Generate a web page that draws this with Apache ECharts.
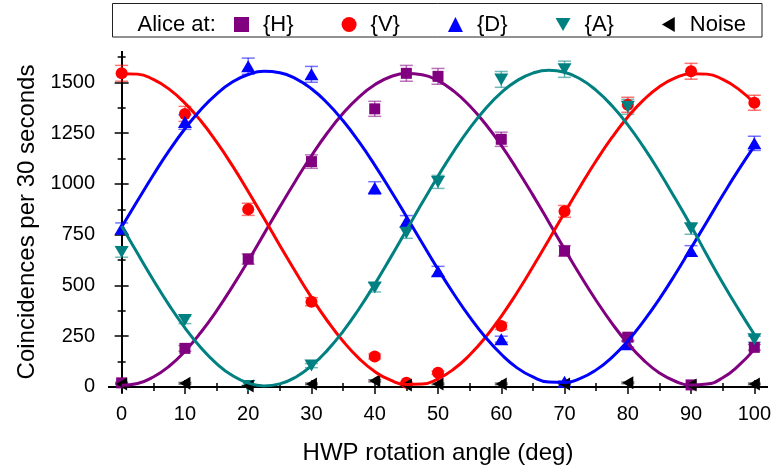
<!DOCTYPE html>
<html>
<head>
<meta charset="utf-8">
<script src="https://cdn.jsdelivr.net/npm/echarts@6/dist/echarts.min.js"></script>
<style>
  html, body { margin: 0; padding: 0; background: #fff; }
  #chart { width: 772px; height: 472px; }
</style>
</head>
<body>
<div id="chart"></div>
<script>
// ---- data ----
const angles = [0, 10, 20, 30, 40, 45, 50, 60, 70, 80, 90, 100];
const countsH = [20, 190, 630, 1110, 1370, 1545, 1530, 1220, 670, 245, 10, 195];
const countsV = [1545, 1345, 875, 420, 150, 20, 70, 300, 865, 1390, 1555, 1400];
const countsD = [780, 1305, 1580, 1540, 980, 815, 570, 235, 25, 210, 670, 1200];
const countsA = [665, 330, 5, 105, 490, 760, 1010, 1515, 1565, 1380, 780, 235];
const countsNoise = [15, 18, 5, 15, 30, 10, 15, 15, 15, 20, 10, 15];

const errH = [4, 14, 25, 33, 37, 39, 39, 35, 26, 16, 3, 14];
const errV = [39, 37, 30, 20, 12, 4, 8, 17, 29, 37, 39, 37];
const errD = [28, 36, 40, 39, 31, 29, 24, 15, 5, 14, 26, 35];
const errA = [26, 18, 2, 10, 22, 28, 32, 39, 40, 37, 28, 15];
const errNoise = [4, 4, 2, 4, 5, 3, 4, 4, 4, 4, 3, 4];

// fitted curves, read every 2.5 degrees
const fitAngles = [0, 2.5, 5, 7.5, 10, 12.5, 15, 17.5, 20, 22.5, 25, 27.5, 30, 32.5, 35, 37.5, 40, 42.5, 45, 47.5,
  50, 52.5, 55, 57.5, 60, 62.5, 65, 67.5, 70, 72.5, 75, 77.5, 80, 82.5, 85, 87.5, 90, 92.5, 95, 97.5, 100];
const fitH = [8, 17, 49, 102, 176, 268, 375, 494, 621, 754, 887, 1016, 1139, 1251, 1348, 1428, 1489, 1528, 1544, 1538,
  1509, 1457, 1385, 1295, 1190, 1071, 945, 813, 679, 549, 426, 313, 214, 132, 69, 28, 9, 14, 45, 105, 185];
const fitV = [1543, 1541, 1515, 1467, 1398, 1311, 1207, 1090, 963, 831, 697, 566, 441, 326, 225, 141, 76, 33, 12, 14,
  40, 88, 157, 244, 348, 465, 592, 724, 858, 989, 1114, 1229, 1330, 1414, 1479, 1522, 1543, 1541, 1515, 1467, 1398];
const fitD = [788, 917, 1044, 1164, 1272, 1366, 1443, 1502, 1539, 1555, 1548, 1519, 1469, 1399, 1311, 1208, 1093, 969, 840, 709,
  580, 458, 345, 245, 161, 94, 49, 24, 22, 42, 84, 146, 226, 324, 434, 555, 684, 814, 944, 1069, 1186];
const fitA = [793, 658, 527, 403, 291, 194, 115, 56, 19, 5, 15, 48, 104, 180, 274, 384, 506, 637, 772, 907,
  1038, 1162, 1274, 1371, 1450, 1509, 1546, 1560, 1550, 1517, 1461, 1385, 1291, 1181, 1059, 928, 793, 650, 512, 382, 258];

const legendNames = ['{H}', '{V}', '{D}', '{A}', 'Noise'];
const xMajor = [0, 10, 20, 30, 40, 50, 60, 70, 80, 90, 100];
const xMinor = [5, 15, 25, 35, 45, 55, 65, 75, 85, 95];
const yMajor = [0, 250, 500, 750, 1000, 1250, 1500];
const yMinor = [125, 375, 625, 875, 1125, 1375, 1625];

// ---- styling ----
const FONT = 'Liberation Sans, Arial, Helvetica, sans-serif';
const colors = { H: '#800080', V: '#ff0000', D: '#0000ff', A: '#008080', N: '#000000' };
const errColors = {
  H: 'rgba(128,0,128,0.55)', V: 'rgba(255,0,0,0.55)', D: 'rgba(0,0,255,0.55)',
  A: 'rgba(0,128,128,0.55)', N: 'rgba(0,0,0,0.55)'
};
const ICON_DOWN = 'path://M0,0 L14,0 L7,12 Z';
const ICON_LEFT = 'path://M12,0 L12,14 L0,7 Z';

function zip(xs, ys) { return xs.map((x, i) => [x, ys[i]]); }
function zip3(xs, ys, es) { return xs.map((x, i) => [x, ys[i], es[i]]); }

function errSeries(name, vals, errs, color) {
  return {
    name: name, type: 'custom', xAxisIndex: 0, yAxisIndex: 0,
    data: zip3(angles, vals, errs), encode: { x: 0, y: 1 },
    silent: true,
    renderItem: function (params, api) {
      const x = api.value(0), y = api.value(1), e = api.value(2);
      const t = api.coord([x, y + e]);
      const b = api.coord([x, y - e]);
      const hw = 6.5;
      const st = { stroke: color, lineWidth: 1.5 };
      return {
        type: 'group', children: [
          { type: 'line', shape: { x1: t[0], y1: t[1], x2: b[0], y2: b[1] }, style: st },
          { type: 'line', shape: { x1: t[0] - hw, y1: t[1], x2: t[0] + hw, y2: t[1] }, style: st },
          { type: 'line', shape: { x1: b[0] - hw, y1: b[1], x2: b[0] + hw, y2: b[1] }, style: st }
        ]
      };
    }
  };
}
function fitSeries(name, vals, color) {
  return {
    name: name, type: 'line', xAxisIndex: 0, yAxisIndex: 0,
    data: zip(fitAngles, vals), smooth: true, showSymbol: false, symbol: 'none',
    lineStyle: { color: color, width: 3 }, silent: true
  };
}
function ptSeries(name, vals, color, symbol, size, rot) {
  return {
    name: name, type: 'scatter', xAxisIndex: 0, yAxisIndex: 0,
    data: zip(angles, vals), symbol: symbol, symbolSize: size, symbolRotate: rot || 0,
    itemStyle: { color: color, opacity: 1 }
  };
}

const axisLineStyle = { show: true, lineStyle: { color: '#000', width: 2 } };
function plainNum(v) { return String(v); }
function xAx(pos, ticks, len, labels) {
  return {
    type: 'value', min: -2, max: 102, position: pos, gridIndex: 0,
    axisLine: axisLineStyle,
    axisTick: { show: true, customValues: ticks, length: len, lineStyle: { color: '#000', width: 1.5 } },
    axisLabel: labels ? { show: true, customValues: ticks, formatter: plainNum, fontSize: 20, fontFamily: FONT, color: '#000', margin: 12 } : { show: false },
    splitLine: { show: false }
  };
}
function yAx(pos, ticks, len, labels) {
  return {
    type: 'value', min: -25, max: 1650, position: pos, gridIndex: 0,
    axisLine: axisLineStyle,
    axisTick: { show: true, customValues: ticks, length: len, lineStyle: { color: '#000', width: 1.5 } },
    axisLabel: labels ? { show: true, customValues: ticks, formatter: plainNum, fontSize: 20, fontFamily: FONT, color: '#000', margin: 14 } : { show: false },
    splitLine: { show: false }
  };
}

const xAxes = [xAx('bottom', xMajor, 7, true), xAx('bottom', xMinor, 4, false), xAx('top', xMajor, 7, false), xAx('top', xMinor, 4, false)];
xAxes[0].name = 'HWP rotation angle (deg)';
xAxes[0].nameLocation = 'middle';
xAxes[0].nameGap = 49;
xAxes[0].nameTextStyle = { fontSize: 24, fontFamily: FONT, color: '#000' };

const yAxes = [yAx('left', yMajor, 7, true), yAx('left', yMinor, 4, false), yAx('right', yMajor, 7, false), yAx('right', yMinor, 4, false)];
yAxes[0].name = 'Coincidences per 30 seconds';
yAxes[0].nameLocation = 'middle';
yAxes[0].nameGap = 66;
yAxes[0].nameTextStyle = { fontSize: 24, fontFamily: FONT, color: '#000' };

const option = {
  animation: false,
  backgroundColor: '#fff',
  grid: { left: 109, right: 5, top: 52, bottom: 80, containLabel: false, outerBoundsMode: 'none' },
  legend: {
    data: [
      { name: legendNames[0] },
      { name: legendNames[1] },
      { name: legendNames[2] },
      { name: legendNames[3], icon: ICON_DOWN },
      { name: legendNames[4], icon: ICON_LEFT }
    ],
    left: 234, top: 13.5, padding: 0,
    itemWidth: 15, itemHeight: 15, itemGap: 48,
    textStyle: { fontSize: 22, fontFamily: FONT, color: '#000', padding: [0, 0, 0, 9] },
    selectedMode: false
  },
  graphic: [
    { type: 'rect', shape: { x: 112.5, y: 3.5, width: 649.5, height: 33.5 }, style: { fill: 'none', stroke: '#222', lineWidth: 1 }, z: 0 },
    { type: 'text', left: 137.5, top: 13.5, style: { text: 'Alice at:', fontSize: 22, fontFamily: FONT, fill: '#000' } }
  ],
  xAxis: xAxes,
  yAxis: yAxes,
  series: [
    errSeries('errH', countsH, errH, errColors.H),
    ptSeries('{H}', countsH, colors.H, 'rect', 11),
    fitSeries('fitH', fitH, colors.H),
    errSeries('errV', countsV, errV, errColors.V),
    ptSeries('{V}', countsV, colors.V, 'circle', 12),
    fitSeries('fitV', fitV, colors.V),
    errSeries('errD', countsD, errD, errColors.D),
    ptSeries('{D}', countsD, colors.D, 'triangle', [14, 12]),
    fitSeries('fitD', fitD, colors.D),
    errSeries('errA', countsA, errA, errColors.A),
    ptSeries('{A}', countsA, colors.A, 'triangle', [14, 12], 180),
    fitSeries('fitA', fitA, colors.A),
    errSeries('errN', countsNoise, errNoise, errColors.N),
    ptSeries('Noise', countsNoise, colors.N, 'triangle', [13, 11], 90)
  ]
};

const chart = echarts.init(document.getElementById('chart'), null, { renderer: 'canvas' });
chart.setOption(option);
</script>
</body>
</html>
